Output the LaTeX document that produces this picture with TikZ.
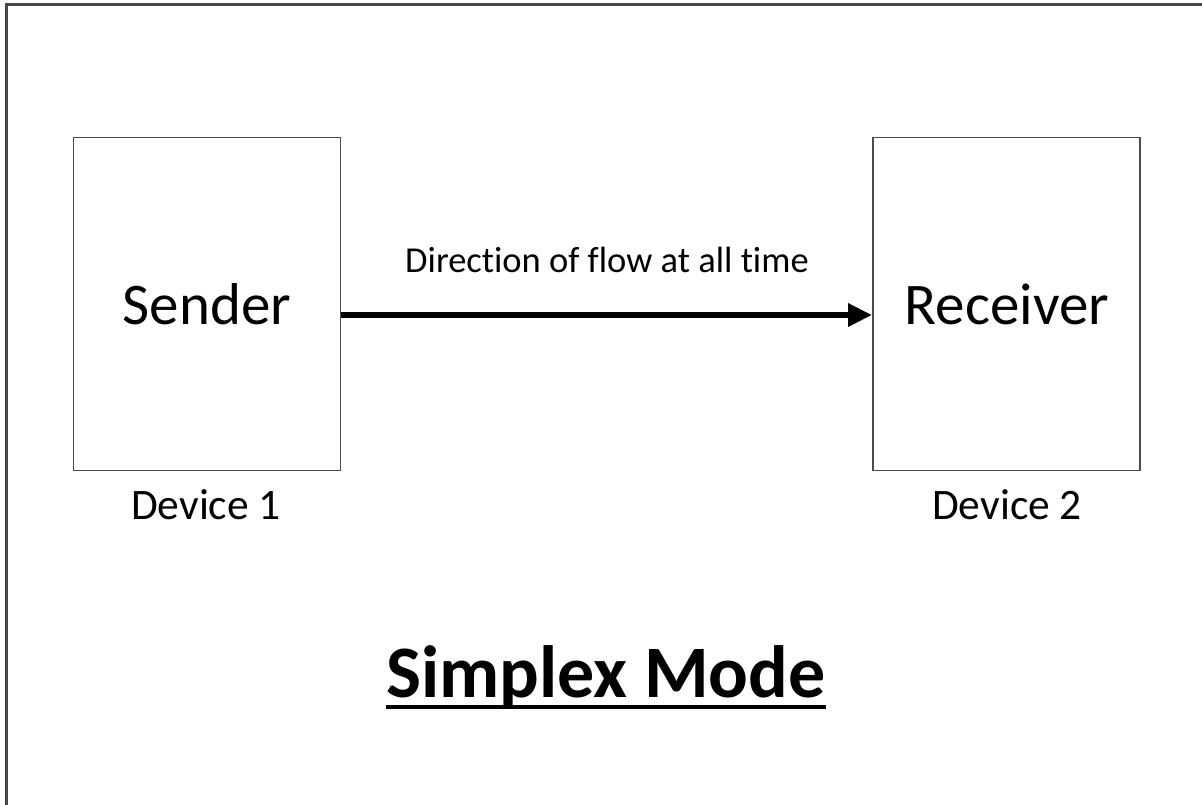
\documentclass[tikz,border=0pt]{standalone}
\usepackage{fontspec}
\setmainfont{Carlito}[Ligatures=NoCommon]
\usetikzlibrary{arrows.meta}
\begin{document}
\begin{tikzpicture}[x=1pt,y=-1pt,
  device/.style={draw=black!70,line width=1.8pt,minimum width=267pt,minimum height=333pt,inner sep=0pt},
  bigtext/.style={anchor=base,inner sep=0pt,font=\fontsize{59}{70}\selectfont},
  smalltext/.style={anchor=base,inner sep=0pt,font=\fontsize{43.5}{52}\selectfont},
  flowtext/.style={anchor=base,inner sep=0pt,font=\fontsize{36.5}{44}\selectfont},
  titletext/.style={anchor=base,inner sep=0pt,font=\bfseries\fontsize{74}{88}\selectfont},
  flow/.style={line width=6.5pt,-{Triangle[length=24pt,width=22pt]}}]
  \useasboundingbox (0,0) rectangle (1202,804);
  % page frame, only the top and left edges fall inside
  \draw[black!72,line width=3pt] (6.5,810) -- (6.5,4.5) -- (1210,4.5);
  % the two devices
  \node[device] (sender) at (207,304) {};
  \node[device] (receiver) at (1006.5,304) {};
  \node[bigtext] (sendlbl) at (207,324) {Sender};
  \node[bigtext] (recvlbl) at (1007,324) {Receiver};
  \node[smalltext] (dev1) at (206,519) {Device 1};
  \node[smalltext] (dev2) at (1007,519) {Device 2};
  % data flow
  \draw[flow] ([yshift=-11pt]sender.east) -- ([yshift=-11pt]receiver.west);
  \node[flowtext] (flowlbl) at (607,272) {Direction of flow at all time};
  % title with underline
  \node[titletext] (title) at (606,697) {Simplex Mode};
  \draw[line width=3.5pt] ([yshift=-10pt]title.base west) -- ([yshift=-10pt]title.base east);
\end{tikzpicture}
\end{document}
